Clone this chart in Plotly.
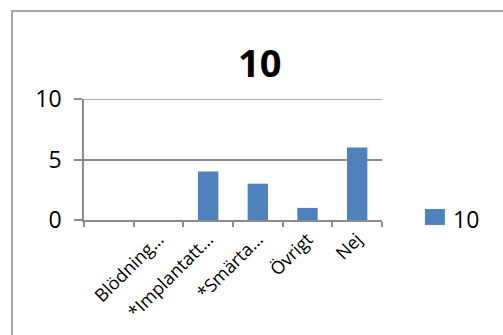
import plotly.graph_objects as go

# Answer categories (first slot has no label) and counts
categories = ["\u200b", "Blödning…", "*Implantatt…", "*Smärta…", "Övrigt", "Nej"]
counts = [0, 0, 4, 3, 1, 6]
series_name = "10"
chart_title = "10"
y_ticks = [0, 5, 10]

FONT = "Open Sans"
GRID = "#8c8c8c"
BAR = "#4f81bd"

fig = go.Figure()
fig.add_trace(go.Bar(
    x=categories, y=counts, name=series_name,
    marker=dict(color=BAR, line=dict(width=0)),
    showlegend=False,
))

fig.update_layout(
    width=503, height=335,
    margin=dict(l=84, r=121, t=99, b=115),
    paper_bgcolor="white", plot_bgcolor="white",
    bargap=0.59,
    font=dict(family=FONT, color="black"),
    showlegend=False,
    xaxis=dict(
        type="category", categoryorder="array", categoryarray=categories,
        tickson="boundaries", ticks="outside", ticklen=5, tickcolor=GRID,
        tickwidth=1.5, showline=True, linecolor=GRID, linewidth=1.5,
        showgrid=False, tickangle=-45, tickfont=dict(size=18, family=FONT),
    ),
    yaxis=dict(
        range=[0, 10], tickvals=y_ticks, ticks="outside", ticklen=8,
        tickcolor=GRID, tickwidth=1.5, showline=True, linecolor=GRID,
        linewidth=1.5, showgrid=True, gridcolor=GRID, gridwidth=1.5,
        zeroline=False, tickfont=dict(size=23, family=FONT),
        ticklabelstandoff=8,
    ),
    annotations=[
        dict(text=f"<b>{chart_title}</b>", xref="paper", yref="paper",
             x=0.59, y=1.306, xanchor="center", yanchor="middle",
             showarrow=False, font=dict(size=38, family=FONT)),
        # legend entry text
        dict(text=series_name, xref="paper", yref="paper",
             x=1.23, y=0.01, xanchor="left", yanchor="middle",
             showarrow=False, font=dict(size=23, family=FONT)),
    ],
    shapes=[
        dict(type="rect", xref="paper", yref="paper",
             x0=-0.2416, y0=-1.2, x1=1.6, y1=1.727,
             line=dict(color="#8c8c8c", width=1.5), layer="below"),
        # top gridline at the axis maximum
        dict(type="line", xref="paper", yref="y",
             x0=0, x1=1, y0=y_ticks[-1], y1=y_ticks[-1],
             line=dict(color=GRID, width=1.5)),
        # legend entry swatch
        dict(type="rect", xref="paper", yref="paper",
             x0=1.144, x1=1.211, y0=-0.041, y1=0.091,
             fillcolor=BAR, line=dict(width=0)),
    ],
)

fig.write_html("out.html")
